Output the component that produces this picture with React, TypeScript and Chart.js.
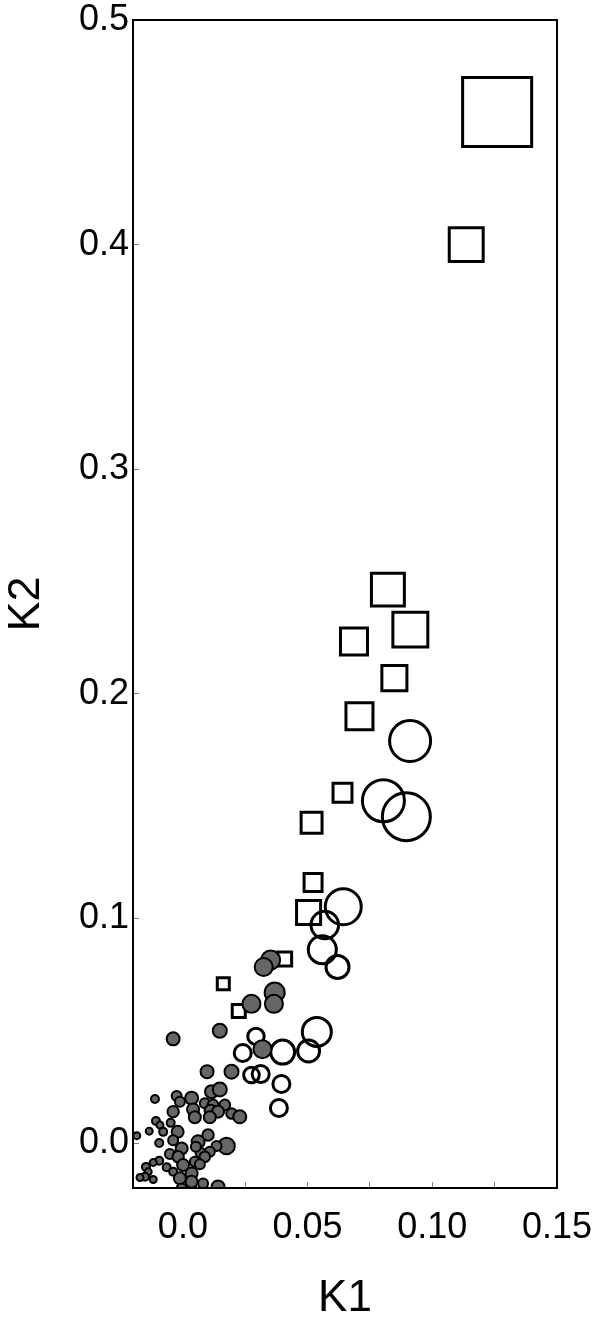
import React, { useEffect, useRef } from "react";
import { Chart, registerables } from "chart.js";

Chart.register(...registerables);

// Filled grey circles: x (K1), y (K2), r (marker radius)
const greyX = [0.0352, 0.0324, 0.0368, 0.0365, 0.0275, 0.0319, 0.0148, -0.0039, 0.0097, 0.0195,
  -0.0112, -0.0025, -0.0012, 0.0035, 0.0115, 0.0148, 0.0088, 0.0121, 0.0168, 0.0041,
  -0.0039, 0.0111, 0.0141, 0.0195, 0.0228, 0.0048, 0.0108, -0.0108, -0.0092, -0.0049,
  -0.0079, -0.0135, -0.0185, -0.0021, -0.0039, -0.0095, 0.0101, 0.0061, 0.0175, 0.0135,
  -0.0005, 0.0108, 0.0071, 0.0052, -0.0052, -0.0019, 0.0088, 0.0001, 0.0048, 0.0068,
  -0.0095, -0.0119, -0.0065, -0.0039, -0.0148, -0.0139, -0.0152, -0.0172, -0.0119, -0.0012,
  0.0035, 0.0035, 0.0081, -0.0005, 0.0141];
const greyY = [0.0815, 0.0784, 0.067, 0.062, 0.062, 0.0418, 0.05, 0.0464, 0.0318, 0.0318,
  0.0196, 0.021, 0.0184, 0.02, 0.0229, 0.0239, 0.0177, 0.017, 0.017, 0.015,
  0.014, 0.0144, 0.014, 0.0132, 0.0117, 0.0115, 0.0115, 0.0098, 0.008, 0.009,
  0.005, 0.0053, 0.0033, 0.005, 0.0013, 0.0, 0.0036, 0.0006, -0.0013, -0.0013,
  -0.0024, -0.0039, -0.0043, -0.0016, -0.0049, -0.0061, -0.0061, -0.0098, -0.0083, -0.0094,
  -0.0079, -0.0086, -0.0108, -0.0128, -0.0106, -0.0128, -0.015, -0.0153, -0.0162, -0.0157,
  -0.0135, -0.0172, -0.018, -0.0202, -0.0195];
const greyR = [9.5, 9, 10, 9, 9, 9, 7, 6.5, 6.5, 7,
  4, 5, 5, 6.5, 6.5, 7, 5, 5.3, 5.3, 6,
  5.7, 6, 6, 5.3, 6.5, 6, 6, 4, 3.5, 4,
  4, 3.5, 3.5, 6, 5, 4, 5.7, 6.5, 8.3, 5,
  6, 5, 5, 5, 5, 5.7, 5.3, 6, 5, 5,
  4, 3.5, 4, 4, 4, 3.5, 4, 3.5, 3.5, 6,
  6, 6, 5, 5, 6.5];

// Open circles
const openX = [0.0911, 0.0804, 0.0896, 0.0643, 0.0569, 0.0559, 0.062, 0.0537, 0.0504, 0.04,
  0.0293, 0.024, 0.0275, 0.0312, 0.0395, 0.0385];
const openY = [0.179, 0.1524, 0.1453, 0.1052, 0.0971, 0.0861, 0.0784, 0.0495, 0.041, 0.0405,
  0.0475, 0.0401, 0.0303, 0.0307, 0.0263, 0.0156];
const openR = [20.5, 21, 24, 18, 13.8, 14, 11.5, 14.5, 11, 12,
  8.2, 8.5, 7.8, 8.5, 8.5, 8.5];

// Open squares
const squareX = [0.126, 0.1136, 0.0822, 0.0912, 0.0686, 0.0848, 0.0708, 0.064, 0.0516, 0.0522,
  0.0504, 0.0408, 0.0162, 0.0224];
const squareY = [0.459, 0.4, 0.2464, 0.2286, 0.2233, 0.207, 0.19, 0.156, 0.1426, 0.116,
  0.1027, 0.082, 0.0709, 0.0588];
const squareR = [48.8, 24, 23.3, 24.7, 19.1, 17.7, 19.1, 13.4, 14.8, 12.7,
  17, 9.9, 8.5, 9.2];

const xTickValues = [0, 0.025, 0.05, 0.075, 0.1, 0.125, 0.15];
const xTickLabels = ["0.0", "", "0.05", "", "0.10", "", "0.15"];
const yTickValues = [0, 0.1, 0.2, 0.3, 0.4, 0.5];
const yTickLabels = ["0.0", "0.1", "0.2", "0.3", "0.4", "0.5"];

const xMin = -0.02;
const xMax = 0.15;
const yMin = -0.02;
const yMax = 0.5;

const toPoints = (xs: number[], ys: number[], rs: number[]) =>
  xs.map((x, i) => ({ x, y: ys[i], r: rs[i] }));

const framePlugin = {
  id: "frame",
  afterDatasetsDraw(chart: any) {
    const { ctx, chartArea } = chart;
    ctx.save();
    ctx.strokeStyle = "#000";
    ctx.lineWidth = 2;
    ctx.strokeRect(chartArea.left, chartArea.top, chartArea.right - chartArea.left, chartArea.bottom - chartArea.top);
    ctx.restore();
  },
};

export default function App() {
  const ref = useRef<HTMLCanvasElement | null>(null);

  useEffect(() => {
    document.body.style.margin = "0";
    if (!ref.current) return;
    Chart.defaults.font.family = "'Liberation Sans', Arial, Helvetica, sans-serif";
    Chart.defaults.color = "#000";
    const chart = new Chart(ref.current, {
      type: "bubble",
      data: {
        datasets: [
          {
            label: "grey",
            data: toPoints(greyX, greyY, greyR),
            backgroundColor: "#666666",
            borderColor: "#000",
            borderWidth: 2,
            clip: 0,
          },
          {
            label: "open",
            data: toPoints(openX, openY, openR),
            backgroundColor: "rgba(0,0,0,0)",
            borderColor: "#000",
            borderWidth: 3,
            clip: 0,
          },
          {
            label: "square",
            data: toPoints(squareX, squareY, squareR),
            backgroundColor: "rgba(0,0,0,0)",
            borderColor: "#000",
            borderWidth: 3,
            pointStyle: "rect",
            clip: 0,
          },
        ],
      } as any,
      options: {
        responsive: false,
        animation: false,
        devicePixelRatio: 1,
        layout: { autoPadding: false, padding: { left: 0, right: 43, top: 20, bottom: 0 } },
        plugins: { legend: { display: false }, tooltip: { enabled: false } },
        scales: {
          x: {
            type: "linear",
            min: xMin,
            max: xMax,
            afterBuildTicks: (scale: any) => {
              scale.ticks = xTickValues.map((v) => ({ value: v }));
            },
            afterFit: (scale: any) => {
              scale.height = 130;
              scale.paddingLeft = 0;
              scale.paddingRight = 0;
            },
            ticks: {
              autoSkip: false,
              maxRotation: 0,
              padding: 28,
              font: { size: 36, lineHeight: 1 },
              callback: (_v: any, i: number) => xTickLabels[i],
            },
            grid: {
              display: true,
              drawOnChartArea: false,
              drawTicks: true,
              tickLength: -6,
              color: "#808080",
              lineWidth: 1,
            },
            border: { display: false },
            title: {
              display: true,
              text: "K1",
              font: { size: 44, lineHeight: 1 },
              padding: { top: 0, bottom: -3 },
            },
          },
          y: {
            type: "linear",
            min: yMin,
            max: yMax,
            afterBuildTicks: (scale: any) => {
              scale.ticks = yTickValues.map((v) => ({ value: v }));
            },
            afterFit: (scale: any) => {
              scale.width = 133;
              scale.paddingTop = 0;
              scale.paddingBottom = 0;
            },
            ticks: {
              autoSkip: false,
              padding: 10,
              font: { size: 36, lineHeight: 1 },
              callback: (_v: any, i: number) => yTickLabels[i],
            },
            grid: {
              display: true,
              drawOnChartArea: false,
              drawTicks: true,
              tickLength: -6,
              color: "#808080",
              lineWidth: 1,
            },
            border: { display: false },
            title: {
              display: true,
              text: "K2",
              font: { size: 45, lineHeight: 1 },
              padding: { top: 4, bottom: 0 },
            },
          },
        },
      } as any,
      plugins: [framePlugin],
    });
    return () => chart.destroy();
  }, []);

  return (
    <div style={{ width: 600, height: 1318 }}>
      <canvas ref={ref} width={600} height={1318} />
    </div>
  );
}
